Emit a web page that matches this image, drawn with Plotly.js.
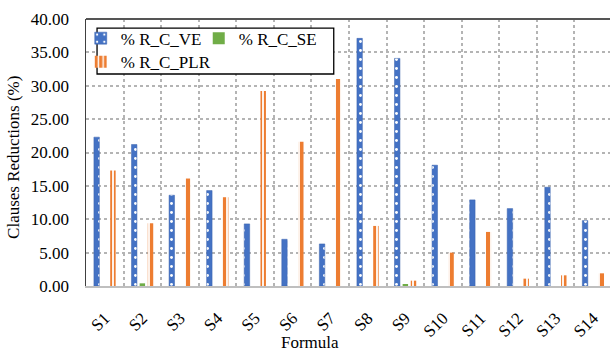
<!DOCTYPE html>
<html>
<head>
<meta charset="utf-8">
<script src="https://cdn.plot.ly/plotly-3.0.1.min.js"></script>
<style>
html,body{margin:0;padding:0;overflow:hidden;background:#fff;}
#chart{width:612px;height:352px;}
</style>
</head>
<body>
<div id="chart"></div>
<script>
const categories = ["S1","S2","S3","S4","S5","S6","S7","S8","S9","S10","S11","S12","S13","S14"];
const seriesNames = ["% R_C_VE", "% R_C_SE", "% R_C_PLR"];
const valuesVE  = [22.3, 21.2, 13.6, 14.3, 9.3, 7.0, 6.3, 37.1, 34.1, 18.1, 12.9, 11.6, 14.8, 9.8];
const valuesSE  = [0, 0.4, 0, 0, 0, 0, 0, 0, 0.3, 0, 0, 0, 0, 0];
const valuesPLR = [17.3, 9.4, 16.1, 13.3, 29.2, 21.6, 31.0, 9.0, 0.8, 5.0, 8.1, 1.1, 1.6, 1.9];
const yTicks = [0, 5, 10, 15, 20, 25, 30, 35, 40];

const font = "'Liberation Serif', 'Times New Roman', serif";

const traces = [
  {type:"bar", name:seriesNames[0], x:categories, y:valuesVE, legend:"legend",
   marker:{color:"#4472C4", line:{color:"#3a63ad", width:0.5},
     pattern:{shape:".", fgcolor:"#ffffff", bgcolor:"#4472C4", size:9, solidity:0.08}}},
  {type:"bar", name:seriesNames[1], x:categories, y:valuesSE, legend:"legend",
   marker:{color:"#70AD47"}},
  {type:"bar", name:seriesNames[2], x:categories, y:valuesPLR, legend:"legend2",
   marker:{color:"#ED7D31", line:{width:0},
     pattern:{shape:"|", fgcolor:"#ffffff", bgcolor:"#ED7D31", size:6, solidity:0.3}}}
];

const layout = {
  width:612, height:352,
  margin:{l:86, r:0, t:19, b:66, autoexpand:false},
  paper_bgcolor:"#ffffff", plot_bgcolor:"#ffffff",
  font:{family:font, size:16, color:"#000000"},
  barmode:"group", bargap:0.35, bargroupgap:0.33,
  showlegend:true,
  legend:{orientation:"h", x:-0.01, xanchor:"left", y:0.994, yanchor:"top",
    entrywidth:73, bgcolor:"rgba(0,0,0,0)", borderwidth:0,
    font:{family:font, size:17, color:"#000"}},
  legend2:{orientation:"h", x:-0.01, xanchor:"left", y:0.906, yanchor:"top",
    bgcolor:"rgba(0,0,0,0)", borderwidth:0,
    font:{family:font, size:17, color:"#000"}},
  xaxis:{type:"category", tickson:"boundaries", showgrid:true, gridcolor:"#b4b4b4",
    griddash:"dot", gridwidth:2, ticks:"", tickangle:-45,
    ticklabelstandoff:14,
    tickfont:{family:font, size:17, color:"#000"},
    showline:true, linecolor:"#bfbfbf", linewidth:1.5, zeroline:false,
    automargin:false, fixedrange:true},
  yaxis:{range:[0,40], tickvals:yTicks, tickformat:".2f", showgrid:true,
    gridcolor:"#b4b4b4", griddash:"dot", gridwidth:2, ticks:"",
    ticklabelstandoff:12,
    tickfont:{family:font, size:17, color:"#000"},
    showline:true, linecolor:"#404040", linewidth:1.5, zeroline:false,
    automargin:false, fixedrange:true},
  shapes:[
    {type:"line", xref:"paper", yref:"paper", x0:0, x1:1, y0:1, y1:1,
     line:{color:"#555555", width:2}},
    {type:"rect", xref:"paper", yref:"paper", x0:0.021, x1:0.471, y0:0.794, y1:0.966,
     fillcolor:"#ffffff", line:{color:"#000000", width:1.3}, layer:"above"}
  ],
  annotations:[
    {text:"Formula", xref:"paper", yref:"paper", x:0.426, y:-0.21,
     xanchor:"center", yanchor:"middle", showarrow:false,
     font:{family:font, size:17, color:"#000"}},
    {text:"Clauses Reductions (%)", xref:"paper", yref:"paper", x:-0.139, y:0.483,
     xanchor:"center", yanchor:"middle", textangle:-90, showarrow:false,
     font:{family:font, size:17, color:"#000"}}
  ]
};

Plotly.newPlot("chart", traces, layout, {displayModeBar:false, staticPlot:true});
</script>
</body>
</html>
